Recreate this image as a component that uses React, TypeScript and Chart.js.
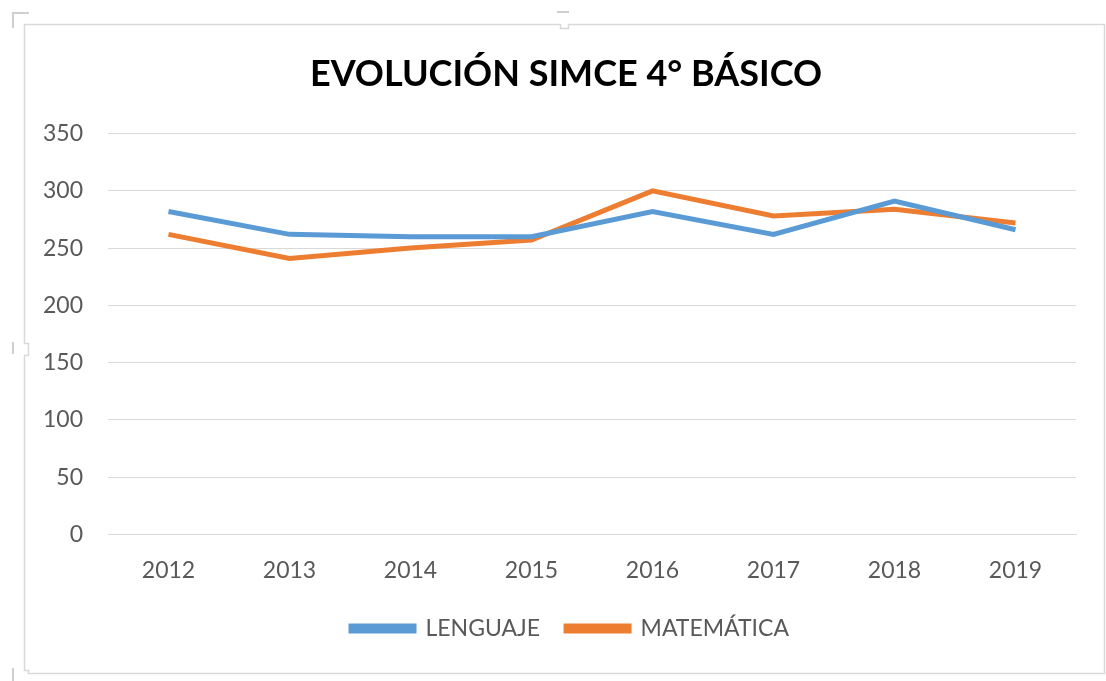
import React, { useEffect, useRef } from "react";
import { Chart, registerables } from "chart.js";

Chart.register(...registerables);

const years = ["2012", "2013", "2014", "2015", "2016", "2017", "2018", "2019"];
const lenguaje = [282, 262, 260, 260, 282, 262, 291, 266];
const matematica = [262, 241, 250, 257, 300, 278, 284, 272];
const chartTitle = "EVOLUCIÓN SIMCE 4° BÁSICO";

const framePlugin = {
  id: "frame",
  afterLayout(chart: any) {
    // centre legend and title as in the reference
    const lg = chart.legend;
    if (lg) {
      lg.left += 17;
      lg.right += 17;
    }
    const tb = chart.titleBlock;
    if (tb) {
      tb.left += 13;
      tb.right += 13;
    }
  },
  beforeDraw(chart: any) {
    const ctx = chart.ctx;
    ctx.save();
    ctx.fillStyle = "#ffffff";
    ctx.fillRect(0, 0, chart.width, chart.height);
    ctx.strokeStyle = "#D9D9D9";
    ctx.lineWidth = 1.5;
    ctx.beginPath();
    ctx.moveTo(24.5, 24.5);
    ctx.lineTo(560.5, 24.5);
    ctx.lineTo(560.5, 28.5);
    ctx.lineTo(568.5, 28.5);
    ctx.lineTo(568.5, 24.5);
    ctx.lineTo(1104.5, 24.5);
    ctx.lineTo(1104.5, 673.5);
    ctx.lineTo(28.5, 673.5);
    ctx.lineTo(28.5, 670.5);
    ctx.lineTo(24.5, 670.5);
    ctx.lineTo(24.5, 355.5);
    ctx.lineTo(28.5, 355.5);
    ctx.lineTo(28.5, 343.5);
    ctx.lineTo(24.5, 343.5);
    ctx.closePath();
    ctx.stroke();
    ctx.strokeStyle = "#CFCFCF";
    ctx.lineWidth = 2;
    ctx.beginPath();
    ctx.moveTo(13, 28);
    ctx.lineTo(13, 13);
    ctx.lineTo(29, 13);
    ctx.moveTo(557, 12);
    ctx.lineTo(569, 12);
    ctx.moveTo(13, 342);
    ctx.lineTo(13, 354);
    ctx.moveTo(13, 668);
    ctx.lineTo(13, 681);
    ctx.stroke();
    ctx.restore();
  },
};

export default function App() {
  const ref = useRef<HTMLCanvasElement | null>(null);
  useEffect(() => {
    document.body.style.margin = "0";
    const font = "Lato, 'Open Sans', sans-serif";
    const tickFont = { family: font, size: 23 };
    const chart = new Chart(ref.current as HTMLCanvasElement, {
      type: "line",
      data: {
        labels: years,
        datasets: [
          {
            label: "LENGUAJE",
            data: lenguaje,
            borderColor: "#5B9BD5",
            backgroundColor: "#5B9BD5",
            borderWidth: 5,
            pointRadius: 0,
            tension: 0,
          },
          {
            label: "MATEMÁTICA",
            data: matematica,
            borderColor: "#ED7D31",
            backgroundColor: "#ED7D31",
            borderWidth: 5,
            pointRadius: 0,
            tension: 0,
          },
        ],
      },
      options: {
        animation: false,
        responsive: false,
        layout: { padding: { left: 30, right: 30, top: 0, bottom: 31 } },
        plugins: {
          title: {
            display: true,
            text: chartTitle,
            color: "#000000",
            font: { family: font, size: 36, weight: "bold" },
            padding: { top: 53, bottom: 37.4 },
          },
          legend: {
            position: "bottom",
            labels: {
              color: "#595959",
              font: tickFont,
              boxWidth: 63,
              boxHeight: 5,
              padding: 26,
            },
          },
          tooltip: { enabled: false },
        },
        scales: {
          x: {
            offset: true,
            afterFit(s: any) {
              s.height = s.height - 15;
            },
            grid: { display: false, drawTicks: false },
            border: { display: true, color: "#D9D9D9" },
            ticks: {
              color: "#595959",
              font: tickFont,
              padding: 22,
            },
          },
          y: {
            min: 0,
            max: 350,
            afterFit(s: any) {
              s.width = 78;
            },
            grid: { color: "#D9D9D9", drawTicks: false },
            border: { display: false },
            ticks: {
              stepSize: 50,
              color: "#595959",
              font: tickFont,
              padding: 25,
            },
          },
        },
      },
      plugins: [framePlugin],
    });
    return () => chart.destroy();
  }, []);
  return <canvas ref={ref} width={1106} height={681} style={{ display: "block" }} />;
}
